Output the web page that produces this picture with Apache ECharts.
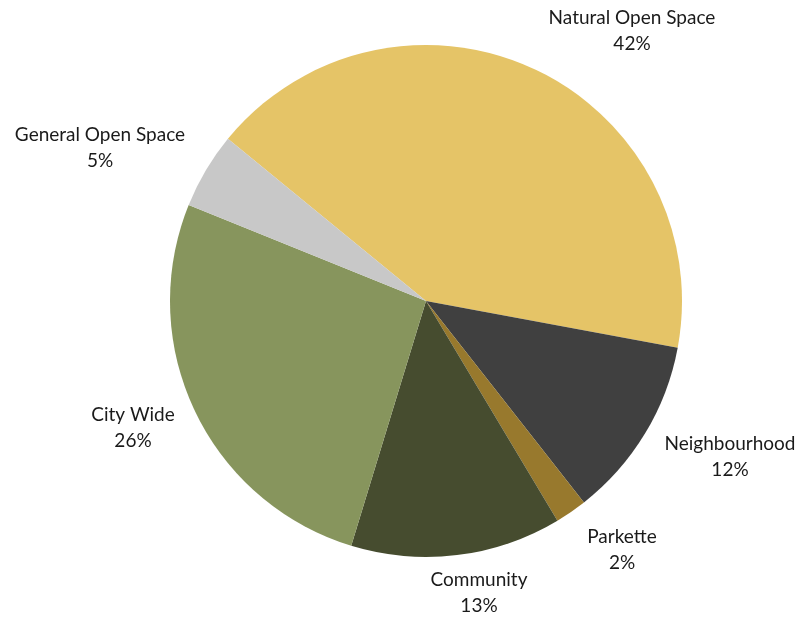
<!DOCTYPE html>
<html>
<head>
<meta charset="utf-8">
<script src="https://cdn.jsdelivr.net/npm/echarts@6/dist/echarts.min.js"></script>
<style>
html,body{margin:0;padding:0;background:#fff;}
#chart{width:801px;height:618px;}
</style>
</head>
<body>
<div id="chart"></div>
<script>
const categories = ['Natural Open Space', 'Neighbourhood', 'Parkette', 'Community', 'City Wide', 'General Open Space'];
const shares = [42, 11.5, 2, 13.3, 26.4, 4.8];
const sliceColors = ['#E5C467', '#404040', '#98792D', '#464C2F', '#87955D', '#C8C8C8'];
// label block centres (px) as placed in the reference
const labelAnchors = [[632, 31], [730, 457], [622, 550], [479, 593], [133, 428], [100, 148]];

const chart = echarts.init(document.getElementById('chart'), null, {renderer: 'canvas'});
chart.setOption({
  animation: false,
  backgroundColor: '#ffffff',
  series: [{
    type: 'pie',
    center: [426, 301],
    radius: [0, 256],
    startAngle: 140.7,
    clockwise: true,
    percentPrecision: 0,
    avoidLabelOverlap: false,
    data: categories.map((c, i) => ({name: c, value: shares[i], itemStyle: {color: sliceColors[i]}})),
    itemStyle: {borderWidth: 0},
    label: {
      show: true,
      position: 'outside',
      formatter: '{b}\n{d}%',
      fontFamily: 'Lato',
      fontSize: 19,
      lineHeight: 26,
      color: '#1a1a1a',
      align: 'center'
    },
    labelLine: {show: false},
    labelLayout: function (p) {
      const a = labelAnchors[p.dataIndex];
      return {x: a[0], y: a[1], align: 'center', verticalAlign: 'middle'};
    },
    emphasis: {disabled: true}
  }]
});
</script>
</body>
</html>
